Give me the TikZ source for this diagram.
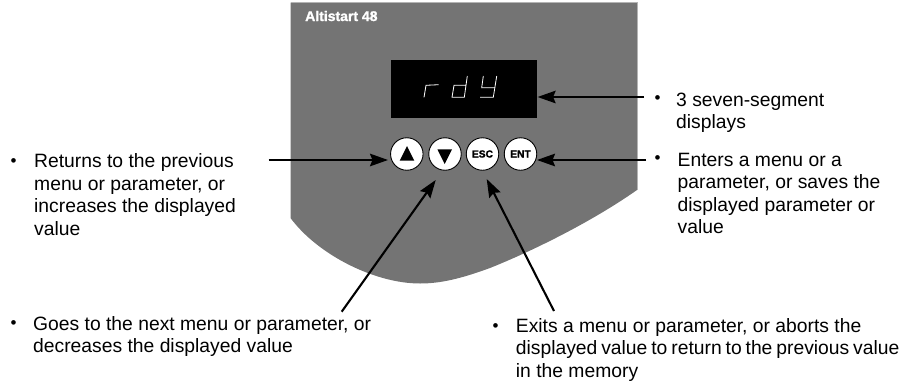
\documentclass[tikz,border=0pt]{standalone}
\usepackage{fontspec}
\setmainfont{Liberation Sans}[BoldFeatures={FakeBold=1.5}]
\usetikzlibrary{arrows.meta}
\definecolor{panelgray}{HTML}{747474}
\definecolor{paneledge}{HTML}{B4B4B4}
\newcommand{\fl}{\rule{0pt}{14pt}}
\tikzset{
  label/.style={anchor=north west,inner sep=0pt,align=left,font=\fontsize{19.3}{22.4}\selectfont},
  dotmark/.style={anchor=base,inner sep=0pt,font=\fontsize{17}{22.4}\selectfont},
  btn/.style={circle,draw=black,line width=0.9pt,fill=white,minimum size=32.5pt,inner sep=0pt},
  btntext/.style={font=\fontsize{10.2}{11}\bfseries\selectfont,text=black},
  callout/.style={draw=black,line width=2.1pt,-{Stealth[length=18pt,width=12.5pt,inset=2.5pt]}},
  seg/.style={draw=white,line width=0.8pt}
}
\begin{document}
\begin{tikzpicture}[x=1pt,y=-1pt]
\useasboundingbox (0,0) rectangle (903,383);
% panel
\path[fill=panelgray] (290.5,2.5) -- (637,2.5) -- (637,190)
  .. controls (590,223) and (530,252) .. (490,268)
  .. controls (460,279) and (440,283.5) .. (420,283.5)
  .. controls (375,283.5) and (318,255) .. (290.5,218) -- cycle;
\draw[paneledge,line width=0.6pt] (290.5,2.5) -- (637,2.5) -- (637,190);
\node[anchor=base west,inner sep=0pt,text=white,font=\fontsize{14}{15}\bfseries\selectfont] (title) at (305,21) {Altistart 48};
% display
\node[fill=black,inner sep=0pt,minimum width=146.5pt,minimum height=58pt,anchor=north west] (display) at (390.7,60) {};
\draw[seg] (424,97.3) -- (426,85.3) -- (438.7,84.7);
\draw[seg] (467.3,76) -- (464.3,97.3) -- (452,97.3) -- (454,85.3) -- (466,85.3);
\draw[seg] (483.3,76) -- (481.7,87.7) -- (495,87.7);
\draw[seg] (496.7,76) -- (493.3,97.3) -- (480,97.3);
% buttons
\node[btn] (up) at (406.8,154) {};
\node[btn] (down) at (445,154) {};
\node[btn,btntext] (esc) at (482.5,154) {ESC};
\node[btn,btntext] (ent) at (520.5,154) {ENT};
\fill[black] (407,146) -- (414.3,160.7) -- (399.7,160.7) -- cycle;
\fill[black] (444.7,164) -- (452,149.3) -- (437.4,149.3) -- cycle;
% tails and tips
\coordinate (tailDisp) at (644,97);
\coordinate (tailUp) at (268.5,160);
\coordinate (tipUp) at (388,160);
\coordinate (tailEnt) at (646,160);
\coordinate (tipEnt) at (537,160);
\coordinate (tailDown) at (341.7,311.7);
\coordinate (tipDown) at (435.7,180);
\coordinate (tailEsc) at (554,311);
\coordinate (tipEsc) at (486.7,179);
\draw[callout] (tailDisp) -- (display.east |- tailDisp);
\draw[callout] (tailUp) -- (tipUp);
\draw[callout] (tailEnt) -- (tipEnt);
\draw[callout] (tailDown) -- (tipDown);
\draw[callout] (tailEsc) -- (tipEsc);
% labels
\node[dotmark] (b1) at (13.5,166.3) {•};
\node[label] (t1) at (34,153.7) {\fl Returns to the previous\\menu or parameter, or\\increases the displayed\\value};
\node[dotmark] (b2) at (657.5,103.3) {•};
\node[label] (t2) at (676,92) {\fl 3 seven-segment\\displays};
\node[dotmark] (b3) at (657.5,163.3) {•};
\node[label] (t3) at (677.5,152) {\fl Enters a menu or a\\parameter, or saves the\\displayed parameter or\\value};
\node[dotmark] (b4) at (13.5,328.6) {•};
\node[label] (t4) at (33,316) {\fl Goes to the next menu or parameter, or\\decreases the displayed value};
\node[dotmark] (b5) at (495.7,331.3) {•};
\node[label] (t5) at (515.7,318.2) {\fl Exits a menu or parameter, or aborts the\\{\spaceskip=3.9pt displayed value to return to the previous value}\\in the memory};
\end{tikzpicture}
\end{document}
